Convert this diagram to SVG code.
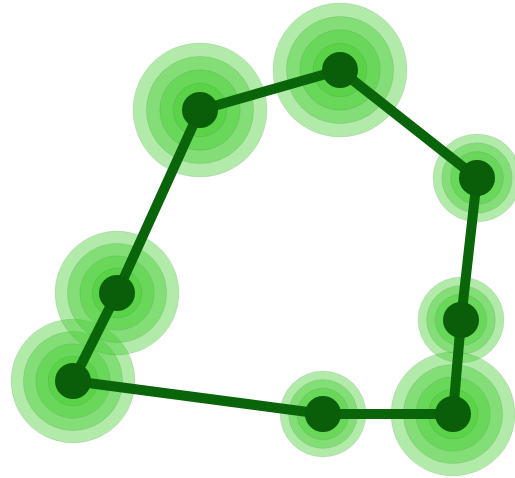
<svg xmlns="http://www.w3.org/2000/svg" width="515" height="478" viewBox="0 0 515 478">
  <defs>
    <style>
      .halo circle { fill: #44cc33; fill-opacity: 0.42; stroke: #000; stroke-opacity: 0.07; stroke-width: 1; vector-effect: non-scaling-stroke; }
      .edge { stroke: #0a640a; stroke-width: 10; stroke-linecap: round; fill: none; }
      .dot { fill: #0a5e0a; }
    </style>
    <!-- unit halo: four concentric translucent disks, scaled per node -->
    <g id="halo" class="halo">
      <circle r="1"/>
      <circle r="0.8"/>
      <circle r="0.6"/>
      <circle r="0.4"/>
    </g>
  </defs>
  <rect width="515" height="478" fill="#fff"/>

  <g id="halos">
    <use href="#halo" transform="translate(200,110) scale(67)"/>
    <use href="#halo" transform="translate(340,70) scale(67)"/>
    <use href="#halo" transform="translate(477,178) scale(44)"/>
    <use href="#halo" transform="translate(461,320) scale(43)"/>
    <use href="#halo" transform="translate(453,414) scale(62)"/>
    <use href="#halo" transform="translate(323,414) scale(43)"/>
    <use href="#halo" transform="translate(73,381) scale(62)"/>
    <use href="#halo" transform="translate(117,293) scale(62)"/>
  </g>

  <g id="connectors">
    <line class="edge" x1="200" y1="110" x2="340" y2="70"/>
    <line class="edge" x1="340" y1="70" x2="477" y2="178"/>
    <line class="edge" x1="477" y1="178" x2="461" y2="320"/>
    <line class="edge" x1="461" y1="320" x2="453" y2="414"/>
    <line class="edge" x1="453" y1="414" x2="323" y2="414"/>
    <line class="edge" x1="323" y1="414" x2="73" y2="381"/>
    <line class="edge" x1="73" y1="381" x2="117" y2="293"/>
    <line class="edge" x1="117" y1="293" x2="200" y2="110"/>
  </g>

  <g id="node1"><circle class="dot" cx="200" cy="110" r="18"/></g>
  <g id="node2"><circle class="dot" cx="340" cy="70" r="18"/></g>
  <g id="node3"><circle class="dot" cx="477" cy="178" r="18"/></g>
  <g id="node4"><circle class="dot" cx="461" cy="320" r="18"/></g>
  <g id="node5"><circle class="dot" cx="453" cy="414" r="18"/></g>
  <g id="node6"><circle class="dot" cx="323" cy="414" r="18"/></g>
  <g id="node7"><circle class="dot" cx="73" cy="381" r="18"/></g>
  <g id="node8"><circle class="dot" cx="117" cy="293" r="18"/></g>
</svg>
